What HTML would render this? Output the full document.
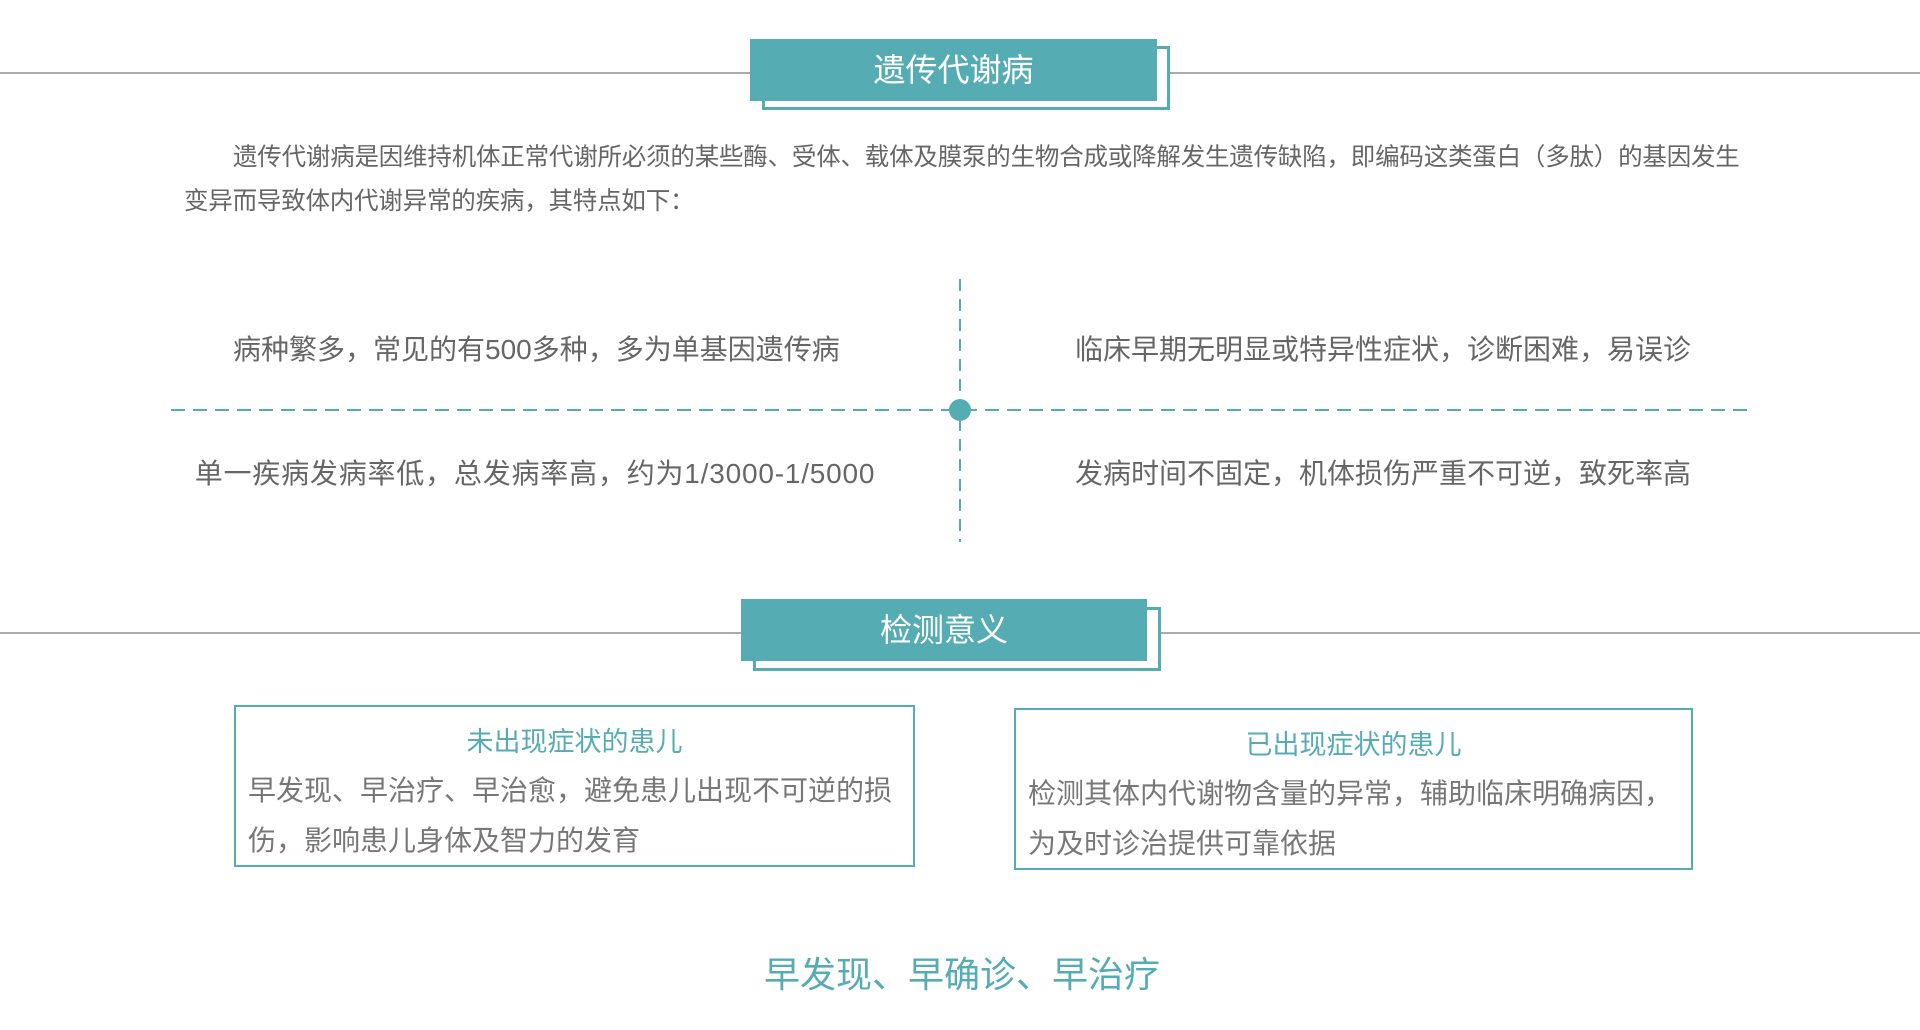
<!DOCTYPE html>
<html><head><meta charset="utf-8"><style>
body{margin:0;width:1920px;height:1030px;background:#fff;position:relative;overflow:hidden;font-family:"Liberation Sans","Noto Sans CJK SC",sans-serif;}
.a{position:absolute}
.hl{position:absolute;left:0;width:1920px;height:2px;background:#aaa}
.hb{position:absolute;background:#55acb3;color:#fff;font-size:32px;text-align:center}
.ho{position:absolute;border:3px solid #55acb3;box-sizing:border-box;background:#fff}
.t{position:absolute;color:#666;font-size:28px;white-space:nowrap;text-align:center}
.box{position:absolute;border:2px solid #55acb3;box-sizing:border-box}
.box .h{color:#55acb3;font-size:27px;text-align:center;margin-top:17px;line-height:36px}
.box .b{color:#777;font-size:28px;line-height:50px;padding:0 12px;margin-top:6px}
</style></head><body>
<div class="hl" style="top:72px"></div>
<div class="ho" style="left:762px;top:46px;width:408px;height:64px"></div>
<div class="hb" style="left:750px;top:39px;width:407px;height:62px;line-height:62px">遗传代谢病</div>
<div class="a" style="left:184px;top:136px;white-space:nowrap;font-size:24.5px;letter-spacing:-0.2px;color:#666;line-height:44px"><span style="padding-left:49px"></span>遗传代谢病是因维持机体正常代谢所必须的某些酶、受体、载体及膜泵的生物合成或降解发生遗传缺陷，即编码这类蛋白（多肽）的基因发生<br>变异而导致体内代谢异常的疾病，其特点如下：</div>
<svg class="a" style="left:0;top:0" width="1920" height="1030">
<line x1="960" y1="279" x2="960" y2="542" stroke="#55acb3" stroke-width="2" stroke-dasharray="12,8"/>
<line x1="171" y1="410" x2="1749" y2="410" stroke="#55acb3" stroke-width="2" stroke-dasharray="14,8"/>
<circle cx="960" cy="410" r="11" fill="#55acb3"/>
</svg>
<div class="t" style="left:233px;width:600px;top:328px">病种繁多，常见的有500多种，多为单基因遗传病</div>
<div class="t" style="left:1075px;width:600px;top:328px">临床早期无明显或特异性症状，诊断困难，易误诊</div>
<div class="t" style="left:135px;width:800px;top:452px;letter-spacing:0.8px">单一疾病发病率低，总发病率高，约为1/3000-1/5000</div>
<div class="t" style="left:1075px;width:600px;top:452px">发病时间不固定，机体损伤严重不可逆，致死率高</div>
<div class="hl" style="top:632px"></div>
<div class="ho" style="left:753px;top:607px;width:408px;height:64px"></div>
<div class="hb" style="left:741px;top:599px;width:406px;height:62px;line-height:62px">检测意义</div>
<div class="box" style="left:234px;top:705px;width:681px;height:162px"><div class="h">未出现症状的患儿</div><div class="b">早发现、早治疗、早治愈，避免患儿出现不可逆的损伤，影响患儿身体及智力的发育</div></div>
<div class="box" style="left:1014px;top:708px;width:679px;height:162px"><div class="h">已出现症状的患儿</div><div class="b">检测其体内代谢物含量的异常，辅助临床明确病因，为及时诊治提供可靠依据</div></div>
<div class="a" style="left:662px;width:600px;top:946px;text-align:center;color:#55acb3;font-size:36px">早发现、早确诊、早治疗</div>
</body></html>
